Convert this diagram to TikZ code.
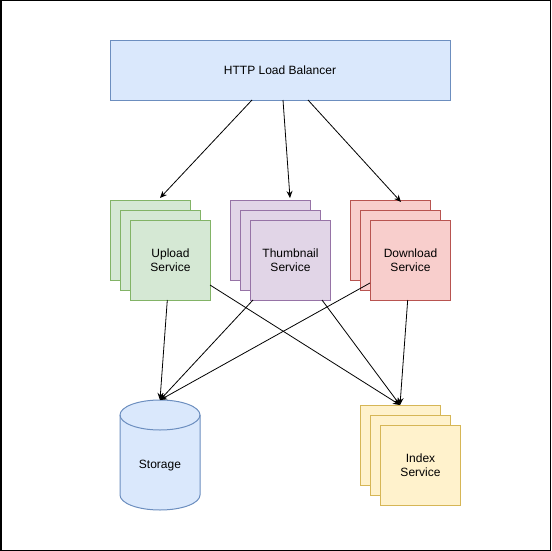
\documentclass[tikz,border=0pt]{standalone}
\usepackage{fontspec}
\setmainfont{Liberation Sans}
\usetikzlibrary{arrows.meta}
\definecolor{bluef}{HTML}{DAE8FC}\definecolor{blues}{HTML}{6C8EBF}
\definecolor{greenf}{HTML}{D5E8D4}\definecolor{greens}{HTML}{82B366}
\definecolor{purpf}{HTML}{E1D5E7}\definecolor{purps}{HTML}{9673A6}
\definecolor{redf}{HTML}{F8CECC}\definecolor{reds}{HTML}{B85450}
\definecolor{yelf}{HTML}{FFF2CC}\definecolor{yels}{HTML}{D6B656}
\begin{document}
\begin{tikzpicture}[x=1pt,y=-1pt,
  font=\fontsize{12}{14}\selectfont,
  box/.style={draw, line width=1pt, minimum width=80pt, minimum height=80pt, inner sep=0pt, align=center, anchor=north west},
  lb/.style={draw=blues, fill=bluef, line width=1pt, minimum width=340pt, minimum height=60pt, inner sep=0pt, anchor=north west},
  conn/.style={draw=black, line width=0.8pt, -{Stealth[length=7pt,width=6pt]}}]
\useasboundingbox (0,0) rectangle (551,551);
\draw[line width=1.5pt] (0.75,0.75) rectangle (550.25,550.25);
% load balancer
\node[lb] (lb) at (110,40) {};
\node (lbt) at (280,70) {HTTP Load Balancer};
% upload stack
\node[box, draw=greens, fill=greenf] (up1) at (110,200) {};
\node[box, draw=greens, fill=greenf] (up2) at (120,210) {};
\node[box, draw=greens, fill=greenf] (up) at (130,220) {Upload\\Service};
% thumbnail stack
\node[box, draw=purps, fill=purpf] (th1) at (230,200) {};
\node[box, draw=purps, fill=purpf] (th2) at (240,210) {};
\node[box, draw=purps, fill=purpf] (th) at (250,220) {Thumbnail\\Service};
% download stack
\node[box, draw=reds, fill=redf] (dl1) at (350,200) {};
\node[box, draw=reds, fill=redf] (dl2) at (360,210) {};
\node[box, draw=reds, fill=redf] (dl) at (370,220) {Download\\Service};
% index stack
\node[box, draw=yels, fill=yelf] (ix1) at (360,405) {};
\node[box, draw=yels, fill=yelf] (ix2) at (370,415) {};
\node[box, draw=yels, fill=yelf] (ix) at (380,425) {Index\\Service};
% storage cylinder
\draw[draw=blues, fill=bluef, line width=1pt] (120,415) -- (120,495) arc[start angle=180, end angle=360, x radius=40, y radius=-15] -- (200,415) arc[start angle=0, end angle=180, x radius=40, y radius=-15] -- cycle;
\draw[draw=blues, line width=1pt] (120,415) arc[start angle=180, end angle=360, x radius=40, y radius=-15];
\node (st) at (160,466) {Storage};
\coordinate (sttop) at (160,400);
\coordinate (ixtop) at (400,405);
% connectors from load balancer
\draw[conn] (252,100) -- (160,198);
\draw[conn] (283,100) -- (290,198);
\draw[conn] (308,100) -- (401,202);
% service to storage / index
\draw[conn] (167.3,300) -- (sttop);
\draw[conn] (210,285) -- (ixtop);
\draw[conn] (253,300) -- (sttop);
\draw[conn] (322,300) -- (ixtop);
\draw[conn] (370,283) -- (sttop);
\draw[conn] (407.7,300) -- (ixtop);
\end{tikzpicture}
\end{document}
